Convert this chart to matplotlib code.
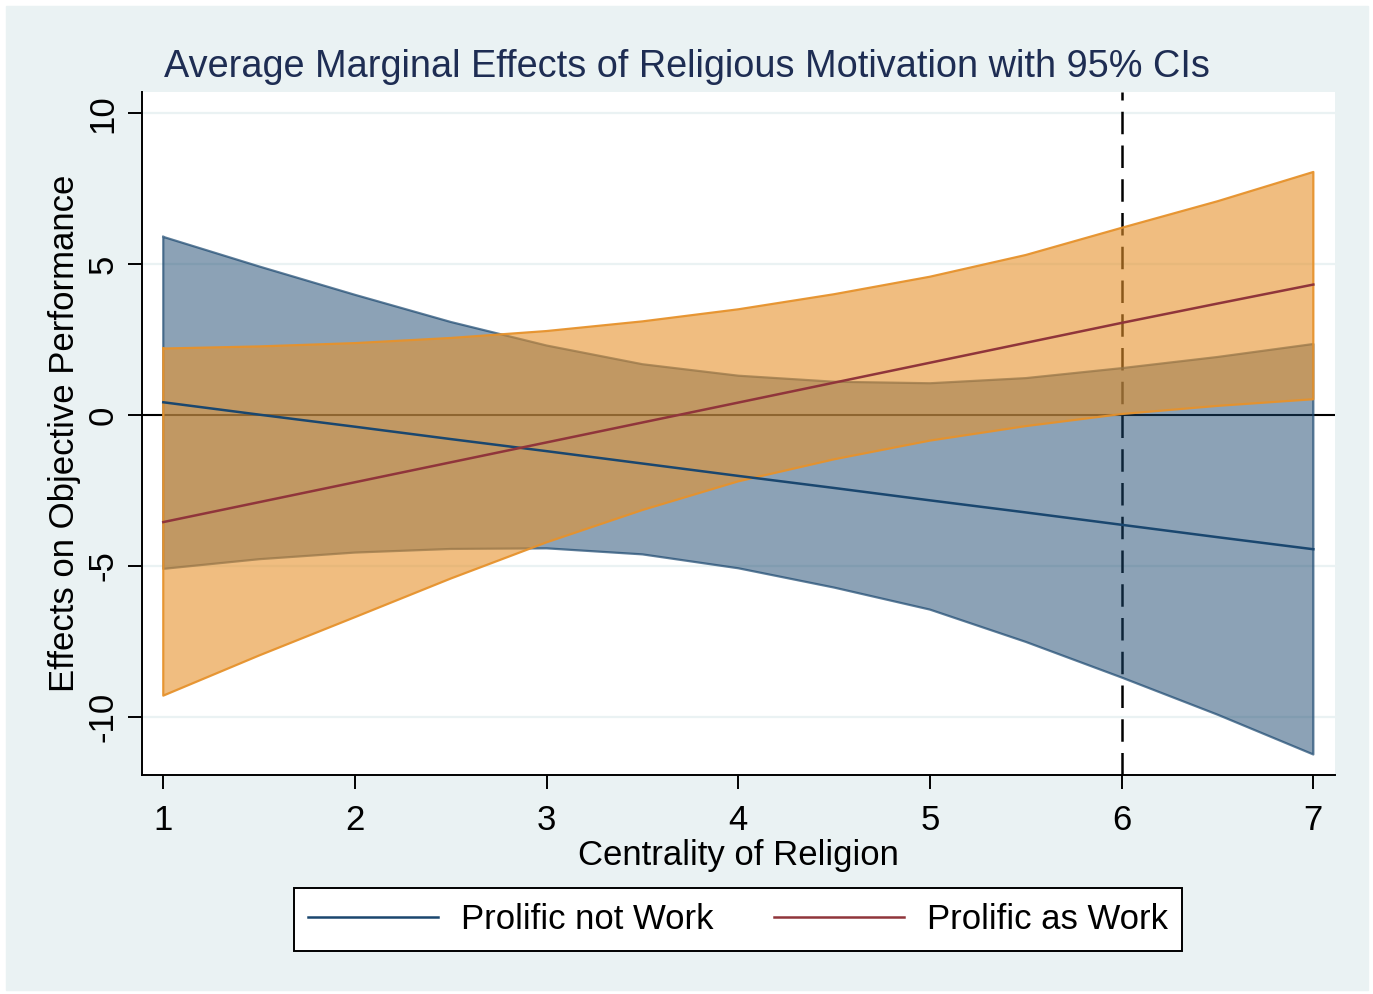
import matplotlib
matplotlib.use("Agg")
import matplotlib.pyplot as plt
from matplotlib.patches import Rectangle

plt.rcParams['font.family'] = ['Liberation Sans', 'DejaVu Sans']

# ---- data ----
x = [1, 1.5, 2, 2.5, 3, 3.5, 4, 4.5, 5, 5.5, 6, 6.5, 7]
not_work = [0.42, 0.01, -0.39, -0.80, -1.20, -1.61, -2.02, -2.42, -2.83, -3.23, -3.64, -4.05, -4.45]
not_work_hi = [5.9, 4.92, 3.98, 3.08, 2.3, 1.68, 1.3, 1.1, 1.05, 1.22, 1.55, 1.92, 2.35]
not_work_lo = [-5.1, -4.78, -4.56, -4.44, -4.42, -4.62, -5.08, -5.72, -6.45, -7.52, -8.7, -9.93, -11.25]
as_work = [-3.55, -2.89, -2.23, -1.57, -0.91, -0.25, 0.41, 1.07, 1.73, 2.39, 3.05, 3.69, 4.32]
as_work_hi = [2.2, 2.27, 2.38, 2.55, 2.78, 3.1, 3.5, 4.0, 4.58, 5.3, 6.2, 7.08, 8.05]
as_work_lo = [-9.3, -7.97, -6.7, -5.42, -4.22, -3.15, -2.2, -1.47, -0.85, -0.37, 0.03, 0.3, 0.52]
xticks = [1, 2, 3, 4, 5, 6, 7]
yticks = [-10, -5, 0, 5, 10]
ytick_labels = ['-10', '-5', '0', '5', '10']
ref_x = 6
labels = ['Prolific not Work', 'Prolific as Work']
title = 'Average Marginal Effects of Religious Motivation with 95% CIs'
xlabel = 'Centrality of Religion'
ylabel = 'Effects on Objective Performance'

# ---- colors ----
navy = (26/255, 71/255, 111/255)
maroon = (144/255, 53/255, 59/255)
orange = (230/255, 146/255, 44/255)
bgc = '#EAF2F3'
title_c = '#1E2D53'

W, H = 1373, 994
fig = plt.figure(figsize=(W/100, H/100), dpi=100)
fig.patch.set_facecolor('white')
fig.patches.append(Rectangle((6/W, 1-990/H), (1368-6)/W, (990-6)/H,
                             transform=fig.transFigure, color=bgc, zorder=-10))

ax = fig.add_axes([142/W, 1-775/H, (1335-142)/W, (775-92)/H])
ax.set_facecolor('white')
ax.set_xlim(0.889, 7.113)
ax.set_ylim(-11.93, 10.7)

for s in ['top', 'right']:
    ax.spines[s].set_visible(False)
for s in ['left', 'bottom']:
    ax.spines[s].set_linewidth(1.4)
    ax.spines[s].set_color('black')

# gridlines
for yv in yticks:
    if yv != 0:
        ax.axhline(yv, color=bgc, lw=1.6, zorder=0.5)

# reference lines under bands
ax.axhline(0, color='black', lw=1.5, zorder=1)
ax.axvline(ref_x, color='black', lw=1.8, ls=(0, (9, 4.5)), zorder=1)

# bands
ax.fill_between(x, not_work_lo, not_work_hi, facecolor=navy, alpha=0.5,
                edgecolor='none', zorder=2)
ax.plot(x + x[::-1] + [x[0]], not_work_hi + not_work_lo[::-1] + [not_work_hi[0]],
        color=navy, alpha=0.7, lw=1.6, zorder=2.1)
ax.fill_between(x, as_work_lo, as_work_hi, facecolor=orange, alpha=0.6,
                edgecolor='none', zorder=3)
ax.plot(x + x[::-1] + [x[0]], as_work_hi + as_work_lo[::-1] + [as_work_hi[0]],
        color=orange, alpha=0.95, lw=1.6, zorder=3.1)

# estimate lines
l1, = ax.plot(x, not_work, color=navy, lw=1.8, zorder=4, label=labels[0])
l2, = ax.plot(x, as_work, color=maroon, lw=1.8, zorder=4, label=labels[1])

ax.set_xticks(xticks)
ax.set_xticklabels([str(v) for v in xticks])
ax.set_yticks(yticks)
ax.set_yticklabels(ytick_labels, rotation=90, va='center')
ax.tick_params(axis='both', which='major', length=10, width=1.4, labelsize=25,
               direction='out', color='black', labelcolor='black')
ax.tick_params(axis='x', pad=11)
ax.tick_params(axis='y', pad=6)

ax.set_xlabel(xlabel, fontsize=25, labelpad=1)
ax.set_ylabel(ylabel, fontsize=25, labelpad=4)

fig.text(0.5, 1-67/H, title, ha='center', va='center', fontsize=27.3, color=title_c)

leg = ax.legend(handles=[l1, l2], loc='center', bbox_to_anchor=(738/W, 1-919.5/H),
                bbox_transform=fig.transFigure, ncol=2, fontsize=25,
                frameon=True, fancybox=False, edgecolor='black', framealpha=1,
                handlelength=3.75, handletextpad=0.65, columnspacing=1.75,
                borderpad=0.42, borderaxespad=0)
leg.get_frame().set_linewidth(1.4)

fig.savefig('out.png', dpi=100, facecolor=fig.get_facecolor())
